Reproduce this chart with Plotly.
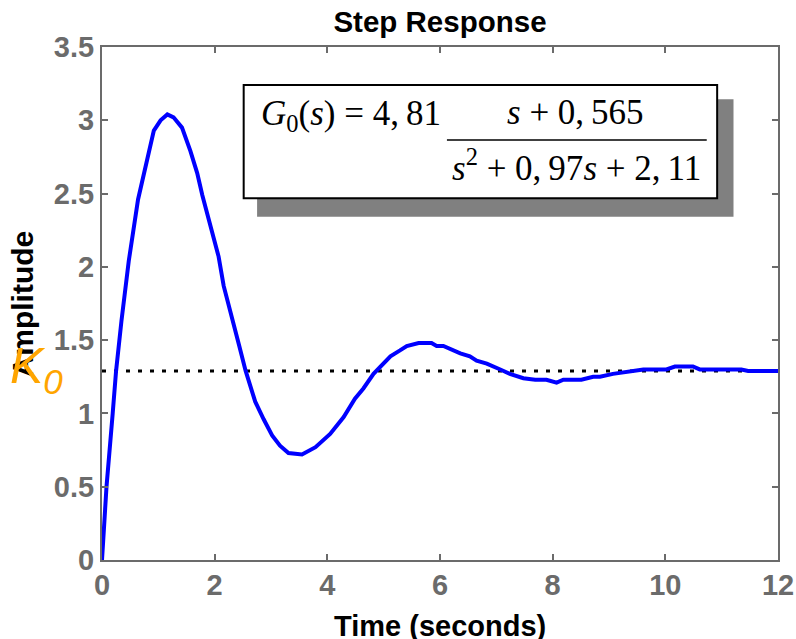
import plotly.graph_objects as go

# ---- data ----
time_s = [0, 0.08, 0.19, 0.25, 0.345, 0.475, 0.64, 0.77, 0.92, 1.04, 1.16, 1.27, 1.42,
          1.57, 1.69, 1.78, 1.92, 2.07, 2.16, 2.31, 2.43, 2.55, 2.72, 2.87, 3.02, 3.16,
          3.31, 3.55, 3.79, 4.05, 4.29, 4.49, 4.64, 4.82, 5.0, 5.12, 5.29, 5.41, 5.62,
          5.85, 5.94, 6.06, 6.36, 6.53, 6.65, 6.83, 7.07, 7.24, 7.48, 7.69, 7.89, 8.07,
          8.19, 8.51, 8.72, 8.84, 9.07, 9.37, 9.61, 10.02, 10.17, 10.49, 10.61, 11.35,
          11.47, 12]
amplitude = [0, 0.5, 1.0, 1.29, 1.63, 2.04, 2.46, 2.68, 2.93, 3.00, 3.04, 3.02, 2.95,
             2.79, 2.64, 2.49, 2.28, 2.07, 1.87, 1.66, 1.47, 1.29, 1.08, 0.96, 0.85, 0.78,
             0.73, 0.72, 0.77, 0.86, 0.975, 1.10, 1.17, 1.27, 1.34, 1.39, 1.43, 1.46, 1.48,
             1.48, 1.46, 1.46, 1.41, 1.39, 1.36, 1.34, 1.30, 1.27, 1.24, 1.23, 1.23, 1.21,
             1.23, 1.23, 1.25, 1.25, 1.27, 1.29, 1.30, 1.30, 1.32, 1.32, 1.30, 1.30,
             1.29, 1.29]
k0_value = 1.29
k0_span = [0, 12]
x_ticks = [0, 2, 4, 6, 8, 10, 12]
x_tick_labels = ["0", "2", "4", "6", "8", "10", "12"]
y_ticks = [0, 0.5, 1, 1.5, 2, 2.5, 3, 3.5]
y_tick_labels = ["0", "0.5", "1", "1.5", "2", "2.5", "3", "3.5"]

GRAY = "#6b6b6b"
SANS = "Liberation Sans, Arial, sans-serif"
SERIF = "Liberation Serif, Times New Roman, serif"
TS = "\u2009"  # thin space after decimal comma

fig = go.Figure()
fig.add_trace(go.Scatter(x=k0_span, y=[k0_value, k0_value], mode="lines",
                         line=dict(color="black", width=3, dash="4px,8px"),
                         hoverinfo="skip", showlegend=False))
fig.add_trace(go.Scatter(x=time_s, y=amplitude, mode="lines",
                         line=dict(color="#0000ff", width=4),
                         hoverinfo="skip", showlegend=False))

# formula box with shadow
fig.add_shape(type="rect", xref="x", yref="y", x0=2.753, x1=11.21, y0=2.342, y1=3.143,
              fillcolor="#808080", line=dict(width=0), layer="above")
fig.add_shape(type="rect", xref="x", yref="y", x0=2.515, x1=10.92, y0=2.468, y1=3.241,
              fillcolor="white", line=dict(color="black", width=2), layer="above")
fig.add_shape(type="line", xref="x", yref="y", x0=6.123, x1=10.735, y0=2.866, y1=2.866,
              line=dict(color="black", width=1.5), layer="above")

ffont = dict(family=SERIF, size=35, color="black")
fig.add_annotation(x=6.05, y=3.03, xref="x", yref="y", xanchor="right", yanchor="middle",
                   text="<i>G</i><sub>0</sub>(<i>s</i>) = 4," + TS + "81", showarrow=False, font=ffont)
fig.add_annotation(x=8.40, y=3.05, xref="x", yref="y", xanchor="center", yanchor="middle",
                   text="<i>s</i> + 0," + TS + "565", showarrow=False, font=ffont)
fig.add_annotation(x=8.43, y=2.69, xref="x", yref="y", xanchor="center", yanchor="middle",
                   text="<i>s</i><sup>2</sup> + 0," + TS + "97<i>s</i> + 2," + TS + "11",
                   showarrow=False, font=ffont)

# axis titles
fig.add_annotation(x=-0.117, y=0.5, xref="paper", yref="paper", xanchor="center",
                   yanchor="middle", textangle=-90, text="<b>Amplitude</b>", showarrow=False,
                   font=dict(family=SANS, size=30, color="black"))
fig.add_annotation(x=0.5, y=-0.1287, xref="paper", yref="paper", xanchor="center",
                   yanchor="middle", text="<b>Time (seconds)</b>", showarrow=False,
                   font=dict(family=SANS, size=29, color="black"))
# K0 label
fig.add_annotation(x=-0.1395, y=1.30, xref="paper", yref="y", xanchor="left",
                   yanchor="middle", text="<i>K<sub>0</sub></i>", showarrow=False,
                   font=dict(family=SANS, size=50, color="#FFA500"))

fig.update_layout(
    width=796, height=639,
    margin=dict(l=102, r=18, t=47, b=79, autoexpand=False),
    paper_bgcolor="white", plot_bgcolor="white",
    title=dict(text="<b>Step Response</b>", x=0.5, xref="paper", y=1 - 22 / 639,
               yanchor="middle", font=dict(family=SANS, size=29.5, color="black")),
    showlegend=False,
)
axis_common = dict(ticks="inside", ticklen=6, tickwidth=1.5, tickcolor=GRAY,
                   showline=True, linecolor=GRAY, linewidth=2, mirror="ticks",
                   showgrid=False, zeroline=False, automargin=False,
                   tickfont=dict(family=SANS, size=29, color=GRAY))
fig.update_xaxes(range=[0, 12], tickvals=x_ticks,
                 ticktext=["<b>" + t + "</b>" for t in x_tick_labels],
                 ticklabelstandoff=-2, **axis_common)
fig.update_yaxes(range=[0, 3.5], tickvals=y_ticks,
                 ticktext=["<b>" + t + "</b>" for t in y_tick_labels],
                 ticklabelstandoff=0, **axis_common)

fig.write_html("out.html", config={"displayModeBar": False},
               post_script="document.body.style.margin='0';")
